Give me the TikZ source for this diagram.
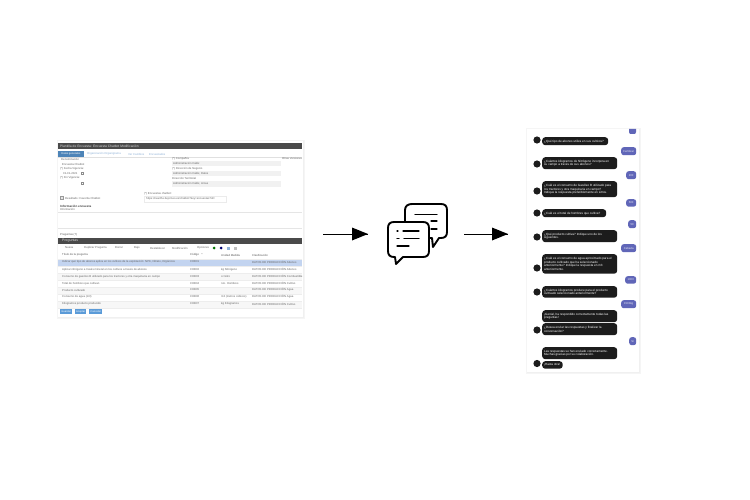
\documentclass[tikz,border=0pt]{standalone}
\usepackage{fontspec}
\setmainfont{Liberation Sans}
\definecolor{barc}{HTML}{4A4A4A}
\definecolor{bluec}{HTML}{5B9BD8}
\definecolor{rowc}{HTML}{C3D4F0}
\definecolor{bandc}{HTML}{F1F1F1}
\definecolor{txtc}{HTML}{666666}
\definecolor{linkc}{HTML}{8FB2D8}
\definecolor{darkb}{HTML}{1C1C1C}
\definecolor{purp}{HTML}{6066B8}
\tikzset{
 x=1pt,y=-1pt,
 shadowbox/.style={fill=black!6,draw=black!4,line width=1pt},
 panelbox/.style={fill=white,draw=none},
 lab/.style={anchor=west,inner sep=0pt,text=txtc,font=\fontsize{2.8}{3}\selectfont},
 labb/.style={lab,text=black!75,font=\fontsize{3}{3}\selectfont\bfseries},
 bar/.style={fill=barc,draw=none,anchor=north west,inner sep=0pt},
 bartxt/.style={anchor=west,inner sep=0pt,text=white!85!black,font=\fontsize{3.3}{3.4}\selectfont},
 btn/.style={fill=bluec,draw=none,anchor=north west,inner sep=0pt,text=white,font=\fontsize{2.6}{3}\selectfont,minimum height=5pt},
 darkbub/.style={fill=darkb,draw=none,rounded corners=3pt,anchor=north west,inner sep=0pt,text=white,font=\fontsize{3.05}{3.7}\selectfont},
 purpbub/.style={fill=purp,draw=none,rounded corners=2.5pt,anchor=north west,inner sep=0pt,text=white!85!purp,font=\fontsize{2.8}{3}\selectfont},
 avatar/.style={circle,fill=darkb,draw=none,inner sep=0pt,minimum size=7.2pt},
 icn/.style={draw=black,line width=1.9pt,fill=white,line join=round},
 icl/.style={draw=black,line width=1.2pt,line cap=round},
 flow/.style={draw=black,line width=1pt},
 flowhead/.style={fill=black,draw=none},
}
% name, x, y, w, h, text (explicit line breaks)
\newcommand{\dbub}[6]{\node[darkbub,minimum width=#4pt,minimum height=#5pt] (#1) at (#2,#3) {\hspace*{1.5pt}\parbox{\dimexpr#4pt-2.5pt\relax}{\raggedright #6}};}
\newcommand{\pbub}[6]{\node[purpbub,minimum width=#4pt,minimum height=#5pt] (#1) at (#2,#3) {#6};}
\newcommand{\avat}[3]{\node[avatar] (#1) at (#2,#3) {};}
\begin{document}
\begin{tikzpicture}
\useasboundingbox[fill=white] (0,0) rectangle (750,500);

% ---------- left panel
\node[shadowbox,anchor=north west,inner sep=0pt,minimum width=247pt,minimum height=178pt] (shadowL) at (56.5,140) {};
\node[panelbox,anchor=north west,inner sep=0pt,minimum width=245pt,minimum height=176pt] (panelL) at (57.5,141) {};
\node[bar,minimum width=244pt,minimum height=6pt] (titlebar) at (58,143) {};
\node[bartxt] (titletxt) at (60,146) {Plantilla de Encuesta: Encuesta Chatbot Modificación};
\node[btn,minimum width=25.5pt,minimum height=6pt,fill=bluec!85!black] (tab1) at (58,151) {Datos generales};
\node[lab,text=linkc] (tab2) at (87,154) {Organización Organigrama};
\node[lab,text=linkc] (tab3) at (128,154) {Ver Cambios};
\node[lab,text=linkc] (tab4) at (149,154) {Encuestados};
\draw[black!12,line width=.4pt] (58,157.5) -- (302,157.5);

\node[lab] (l1) at (61,159) {Denominación};
\node[lab] (l2) at (62,164) {Encuesta Chatbot};
\node[lab] (l3) at (60,168.5) {(*) Fecha Vigencia:};
\node[lab] (l4) at (63,173.5) {01-01-2021};
\node[lab] (l5) at (60,178) {(*) Fin Vigencia:};
\node[draw=black!45,line width=.5pt,inner sep=0pt,minimum size=2.5pt] (cal1) at (82,173.5) {};
\node[draw=black!45,line width=.5pt,inner sep=0pt,minimum size=2.5pt] (cal2) at (82,183.5) {};

\node[fill=bandc,anchor=north west,inner sep=0pt,minimum width=109pt,minimum height=5pt] (band1) at (172,160.5) {};
\node[fill=bandc,anchor=north west,inner sep=0pt,minimum width=109pt,minimum height=5pt] (band3) at (172,171) {};
\node[fill=bandc,anchor=north west,inner sep=0pt,minimum width=109pt,minimum height=6pt] (band5) at (172,181) {};
\node[lab] (r1) at (172,158.3) {(*) Compañía};
\node[lab] (r2) at (173,163) {Administración Cádiz};
\node[lab] (r3) at (172,168.5) {(*) Dirección de Negocio};
\node[lab] (r4) at (173,173.5) {Administración Cádiz, Datos};
\node[lab] (r5) at (172,178.5) {Dirección Territorial};
\node[lab] (r6) at (173,184) {Administración Cádiz, Arcas};
\node[lab] (r7) at (282,158.3) {Otras Versiones};

\node[draw=black!40,fill=black!10,line width=.4pt,inner sep=0pt,minimum size=3pt] (chk) at (61.5,198) {};
\node[lab] (chkt) at (65,198) {Resultado: Favorita Chatbot};
\node[lab] (u1) at (144,194) {(*) Encuestas chatbot:};
\node[draw=black!8,line width=.3pt,anchor=north west,inner sep=0pt,minimum width=82pt,minimum height=6pt] (ufield) at (144,196) {};
\node[lab] (u2) at (146,199) {https://nearthe.bejomeo.es/chatbot?key=encuestas?id=};
\node[labb] (inf1) at (60,206) {Información encuesta};
\node[lab] (inf2) at (60,209.5) {Información};
\draw[black!10,line width=.4pt] (58,212) -- (302,212);
\draw[black!10,line width=.4pt] (58,228.5) -- (302,228.5);

\node[lab,text=black!65] (preg) at (60,235) {Preguntas (7)};
\node[bar,minimum width=244pt,minimum height=6pt] (pregbar) at (58,238) {};
\node[bartxt,font=\fontsize{3.5}{3.6}\selectfont] (pregtxt) at (62,241) {Preguntas};

\node[lab] (t1) at (65,248) {Nueva};
\node[lab] (t2) at (84,248) {Duplicar Pregunta};
\node[lab] (t3) at (115,248) {Borrar};
\node[lab] (t4) at (134,248) {Bajo};
\node[lab] (t5) at (150,248) {Restablecer};
\node[lab] (t6) at (172,248) {Modificación};
\node[lab] (t7) at (197,248) {Opciones};
\node[fill=green!45!black,circle,inner sep=0pt,minimum size=3pt] (g1) at (214,248) {};
\node[fill=blue!45!black,circle,inner sep=0pt,minimum size=3pt] (g2) at (221,248) {};
\node[fill=linkc,inner sep=0pt,minimum size=3pt] (g3) at (228,248) {};
\node[fill=black!25,inner sep=0pt,minimum size=3pt] (g4) at (235,248) {};

\node[lab,text=black!65] (h1) at (62,255) {Título de la pregunta};
\node[lab,text=black!65] (h2) at (190,255) {Código \ \ \^{}};
\node[lab,text=black!65] (h3) at (221,255) {Unidad Medida};
\node[lab,text=black!65] (h4) at (252,255) {Clasificación};

\node[fill=rowc,anchor=north west,inner sep=0pt,minimum width=244pt,minimum height=6.5pt] (rowhi) at (58,259) {};
\foreach \yy in {273,287,301}{
  \fill[black!3] (58,\yy-.5) rectangle (302,\yy+6.5);
}
\foreach \yy in {259,266,273,280,287,294,301,308}{
  \draw[black!7,line width=.3pt] (58,\yy) -- (302,\yy);
}
\node[lab] (a1) at (62,262) {Indicar qué tipo de abonos aplica en los cultivos de la explotación: NPK, Nitrato, Orgánicos};
\node[lab] (a2) at (62,269.5) {Aplicar nitrógeno a través mineral en los cultivos a través de abonos};
\node[lab] (a3) at (62,276.5) {Consumo de gasóleo B utilizado para los tractores y otra maquinaria en campo};
\node[lab] (a4) at (62,283.5) {Total de hombres que cultivan};
\node[lab] (a5) at (62,290) {Producto cultivado};
\node[lab] (a6) at (62,297) {Consumo de agua (m3)};
\node[lab] (a7) at (62,304) {Kilogramos producto producido};
\node[lab] (b1) at (190,262) {CHB01};
\node[lab] (b2) at (190,269.5) {CHB02};
\node[lab] (b3) at (190,276.5) {CHB03};
\node[lab] (b4) at (190,283.5) {CHB04};
\node[lab] (b5) at (190,290) {CHB05};
\node[lab] (b6) at (190,297) {CHB06};
\node[lab] (b7) at (190,304) {CHB07};
\node[lab] (c2) at (221,269.5) {kg Nitrógeno};
\node[lab] (c3) at (221,276.5) {cc/Litro};
\node[lab] (c4) at (221,283.5) {nro. Hombres};
\node[lab] (c6) at (221,297) {m3 (metros cúbicos)};
\node[lab] (c7) at (221,304) {kg Kilogramos};
\node[lab] (d1) at (252,262) {DATOS DE PRODUCCIÓN Abonos};
\node[lab] (d2) at (252,269.5) {DATOS DE PRODUCCIÓN Abonos};
\node[lab] (d3) at (252,276.5) {DATOS DE PRODUCCIÓN Combustible};
\node[lab] (d4) at (252,283.5) {DATOS DE PRODUCCIÓN Cultivo};
\node[lab] (d5) at (252,290) {DATOS DE PRODUCCIÓN Agua};
\node[lab] (d6) at (252,297) {DATOS DE PRODUCCIÓN Agua};
\node[lab] (d7) at (252,304) {DATOS DE PRODUCCIÓN Cultivo};

\node[btn,minimum width=12pt] (bt1) at (60,309) {Guardar};
\node[btn,minimum width=11pt] (bt2) at (75,309) {Aceptar};
\node[btn,minimum width=13pt] (bt3) at (89,309) {Cancelar};

% ---------- central icon
\path[icn] (412,204) -- (441,204) .. controls (445,204) and (447,206) .. (447,210)
  -- (447,232) .. controls (447,236) and (445,238) .. (441,238) -- (439,238) -- (433,247) -- (432,238)
  -- (412,238) .. controls (408,238) and (405,236) .. (405,232)
  -- (405,210) .. controls (405,206) and (408,204) .. (412,204) -- cycle;
\draw[icl] (415,214.5) -- (437,214.5);
\draw[icl] (431,221) -- (437,221);
\draw[icl] (431,229) -- (437,229);
\path[icn] (394,222) -- (423,222) .. controls (427,222) and (429,224) .. (429,228)
  -- (429,251) .. controls (429,255) and (427,257) .. (423,257) -- (403,257) -- (396,264) -- (395,257)
  -- (394,257) .. controls (390,257) and (388,255) .. (388,251)
  -- (388,228) .. controls (388,224) and (390,222) .. (394,222) -- cycle;
\draw[icl] (397,231) -- (398,231);
\draw[icl] (403,231) -- (419,231);
\draw[icl] (397,238.5) -- (399,238.5);
\draw[icl] (404,238.5) -- (419,238.5);
\draw[icl] (397,246) -- (409,246);
\coordinate (iconL) at (368,234);
\coordinate (iconR) at (464,234);

% ---------- right panel
\node[shadowbox,anchor=north west,inner sep=0pt,minimum width=114pt,minimum height=245pt] (shadowR) at (526,128) {};
\node[panelbox,anchor=north west,inner sep=0pt,minimum width=112pt,minimum height=243pt] (panelR) at (527,129) {};

\fill[purp] (629,129) -- (636,129) -- (636,132) .. controls (636,133.5) and (635,134) .. (634,134) -- (631,134) .. controls (630,134) and (629,133.5) .. (629,132) -- cycle;
\dbub{m1}{542}{137}{66}{8}{¿Qué tipo de abonos utiliza en sus cultivos?}
\avat{v1}{537}{140}
\pbub{p1}{621}{147}{15}{8}{Fertilizar}
\dbub{m2}{542}{157}{75}{12}{¿Cuántos kilogramos de Nitrógeno incorpora en\\su campo a través de sus abonos?}
\avat{v2}{537}{164}
\pbub{p2}{626}{171}{10}{8}{200}
\dbub{m3}{542}{181}{75}{16}{¿Cuál es el consumo de Gasóleo B utilizado para\\los tractores y otra maquinaria en campo?\\Indique la respuesta preferiblemente en Litros.}
\avat{v3}{537}{191}
\pbub{p3}{626}{199}{10}{7.5}{500}
\dbub{m4}{542}{209}{64}{8}{¿Cuál es el total de hombres que cultiva?}
\avat{v4}{537}{213}
\pbub{p4}{628}{220}{8}{8}{50}
\dbub{m5}{542}{230}{75}{12}{¿Qué producto cultiva? Indique uno de los\\siguientes.}
\avat{v5}{537}{237}
\pbub{p5}{621}{244}{15}{8}{Cebada}
\dbub{m6}{542}{254}{75}{19.5}{¿Cuál es el consumo de agua aproximado para el\\producto cultivado que ha seleccionado\\anteriormente? Indique la respuesta en m3\\anteriormente.}
\avat{v6}{537}{268}
\pbub{p6}{625}{276}{11}{7.5}{1000}
\dbub{m7}{542}{286}{75}{11.5}{¿Cuántos kilogramos produce para el producto\\cultivado seleccionado anteriormente?}
\avat{v7}{537}{292}
\pbub{p7}{621}{300}{15}{8}{1500kg}
\dbub{m8}{542}{310}{75}{12}{¡Genial, ha respondido correctamente todas las\\preguntas!}
\dbub{m9}{542}{323}{75}{12}{¿Desea enviar las respuestas y finalizar la\\conversación?}
\avat{v9}{537}{330}
\pbub{p8}{629}{337}{7}{8}{Sí}
\dbub{m10}{542}{347}{75}{12}{Las respuestas se han enviado correctamente.\\Muchas gracias por su colaboración.}
\dbub{m11}{542}{361}{20.5}{7.5}{¡Hasta otra!}
\avat{v11}{537}{363.5}
\coordinate (panelLout) at (323,234);
\coordinate (panelRin) at (508,234);

% ---------- arrows
\path[flow] (panelLout) -- (iconL);
\path[flowhead] (352,227.5) -- (368,234) -- (352,240.5) -- cycle;
\path[flow] (iconR) -- (panelRin);
\path[flowhead] (492,227.5) -- (508,234) -- (492,240.5) -- cycle;
\end{tikzpicture}
\end{document}
